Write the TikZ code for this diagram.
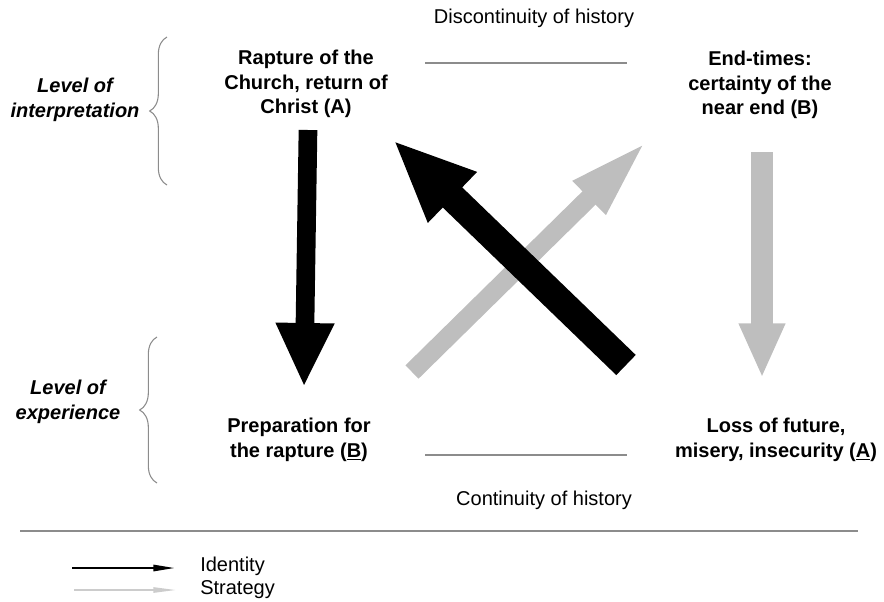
\documentclass[tikz,border=0pt]{standalone}
\usepackage{fontspec}
\setmainfont{Liberation Sans}
\usetikzlibrary{arrows.meta,decorations.pathreplacing}

\definecolor{strategygray}{RGB}{190,190,190}
\definecolor{linegray}{RGB}{140,140,140}

\begin{document}
\begin{tikzpicture}[x=0.75pt,y=-0.75pt,
    every node/.style={inner sep=0pt, font=\fontsize{15}{18}\selectfont},
    state/.style={align=center, font=\fontsize{15}{18.5}\selectfont\bfseries},
    level/.style={align=center, font=\fontsize{15}{18.5}\selectfont\bfseries\itshape},
    history/.style={draw=linegray, line width=0.8pt},
    bracket/.style={draw=linegray, line width=0.8pt, decorate,
        decoration={brace, amplitude=13pt}}]
    \useasboundingbox (0,0) rectangle (884,601);
    % the four states
    \node [state] (rapture) at (306,84) {Rapture of the\\Church, return of\\Christ (A)};
    \node [state] (endtimes) at (760,85) {End-times:\\certainty of the\\near end (B)};
    \node [state] (prep) at (299,440) {Preparation for\\the rapture (\underline{B})};
    \node [state] (loss) at (776,440) {Loss of future,\\misery, insecurity (\underline{A})};
    % levels
    \node [level] (interp) at (75,100) {Level of\\interpretation};
    \node [level] (exper) at (68,402) {Level of\\experience};
    \coordinate (interp-bot) at (167,185);
    \coordinate (interp-top) at (167,37);
    \coordinate (exper-bot) at (157,483);
    \coordinate (exper-top) at (157,337);
    \draw [bracket] (interp-bot) -- (interp-top);
    \draw [bracket] (exper-bot) -- (exper-top);
    % history
    \node (discont) at (534,18) {Discontinuity of history};
    \node (cont) at (544,500) {Continuity of history};
    \coordinate (top-l) at (425,63);
    \coordinate (top-r) at (627,63);
    \coordinate (bot-l) at (425,455);
    \coordinate (bot-r) at (627,455);
    \draw [history] (top-l) -- (top-r);
    \draw [history] (bot-l) -- (bot-r);
    % big arrows
    \coordinate (a1) at (308,130);
    \coordinate (a2) at (304,387);
    \coordinate (b1) at (762,152);
    \coordinate (b2) at (762,378);
    \coordinate (c1) at (412,372);
    \coordinate (c2) at (648,140);
    \coordinate (d1) at (626,365);
    \coordinate (d2) at (393,140);
    \draw [black, line width=14pt, -{Triangle[length=48pt,width=40.5pt]}] (a1) -- (a2);
    \draw [strategygray, line width=17pt, -{Triangle[length=41pt,width=32pt]}] (b1) -- (b2);
    \draw [strategygray, line width=14pt, -{Triangle[length=62pt,width=31pt]}] (c1) -- (c2);
    \draw [black, line width=21pt, -{Triangle[length=62pt,width=48pt]}] (d1) -- (d2);
    % legend
    \coordinate (sep-l) at (20,531);
    \coordinate (sep-r) at (858,531);
    \draw [linegray, line width=1.5pt] (sep-l) -- (sep-r);
    \coordinate (id-l) at (72,568);
    \coordinate (id-r) at (176,568);
    \coordinate (st-l) at (74,590);
    \coordinate (st-r) at (176,590);
    \draw [black, line width=2pt, -{Triangle[length=17pt,width=4.5pt]}] (id-l) -- (id-r);
    \draw [black!20, line width=1.2pt, -{Triangle[length=17pt,width=4pt]}] (st-l) -- (st-r);
    \node [anchor=west] (ident) at (200,566) {Identity};
    \node [anchor=west] (strat) at (200,590) {Strategy};
\end{tikzpicture}
\end{document}
